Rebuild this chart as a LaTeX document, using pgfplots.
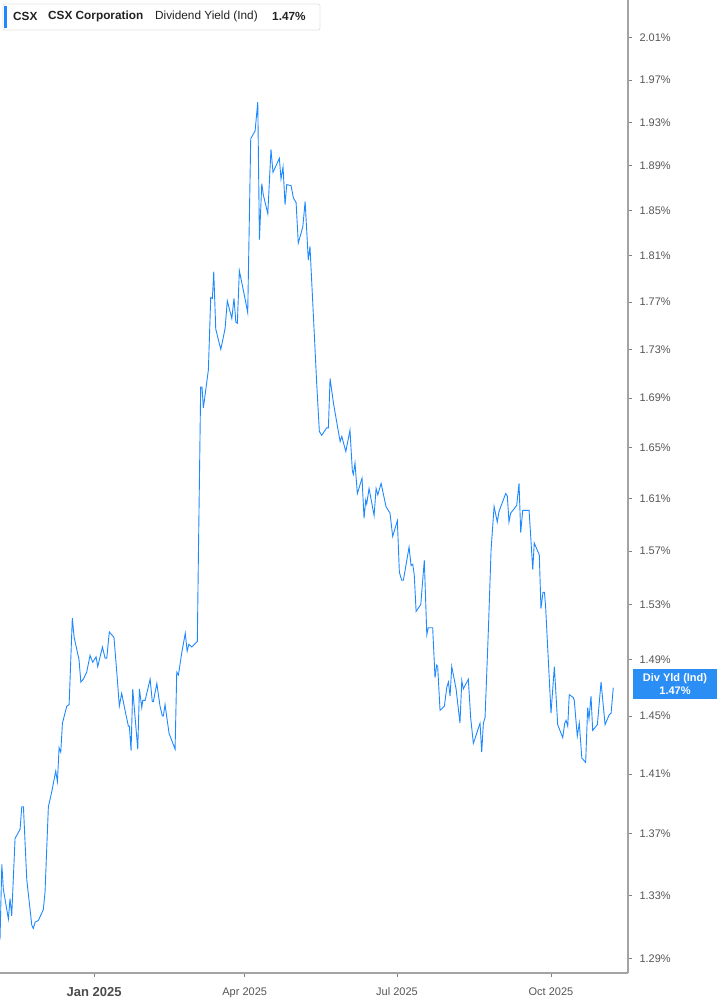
\documentclass[border=0pt]{standalone}
\usepackage{pgfplots}
\pgfplotsset{compat=1.18}
\usepackage{fontspec}
\setmainfont{Liberation Sans}
\definecolor{csxblue}{HTML}{1E88FF}
\definecolor{tagblue}{HTML}{2B8EF5}
\definecolor{ticktext}{HTML}{555555}
\definecolor{axisgray}{HTML}{A3A3A3}
\definecolor{legtext}{HTML}{222222}
\begin{document}
\begin{tikzpicture}[x=1pt,y=1pt]
\begin{axis}[
    at={(0pt,32pt)}, anchor=south west,
    scale only axis, width=628pt, height=973pt,
    ymode=log,
    xmin=-56.2, xmax=319, ymin=1.2812, ymax=2.047,
    axis x line*=bottom, axis y line*=right,
    axis line style={axisgray, line width=1.2pt},
    xtick={0,90,181,273},
    xticklabels={{\fontsize{13}{13}\selectfont\bfseries\color{ticktext!90!black}Jan 2025},Apr 2025,Jul 2025,Oct 2025},
    ytick={1.29,1.33,1.37,1.41,1.45,1.49,1.53,1.57,1.61,1.65,1.69,1.73,1.77,1.81,1.85,1.89,1.93,1.97,2.01},
    yticklabels={1.29\%,1.33\%,1.37\%,1.41\%,1.45\%,1.49\%,1.53\%,1.57\%,1.61\%,1.65\%,1.69\%,1.73\%,1.77\%,1.81\%,1.85\%,1.89\%,1.93\%,1.97\%,2.01\%},
    tick style={color=gray, line width=0.8pt},
    major tick length=4pt,
    tick align=outside,
    ticklabel style={font=\fontsize{11}{13}\selectfont, text=ticktext},
    xticklabel style={yshift=-7pt},
    yticklabel style={xshift=4pt},
]
\addplot[csxblue, line width=0.9pt] coordinates {
(-56.2,1.302) (-55.1,1.350) (-54.2,1.334) (-51.2,1.315) (-50.2,1.328) (-49.2,1.317)
(-47.2,1.367) (-44.2,1.373) (-43.2,1.388) (-42.2,1.388) (-40.2,1.340) (-37.2,1.311)
(-36.3,1.309) (-35.2,1.313) (-33.3,1.314) (-30.3,1.321) (-29.3,1.332) (-27.3,1.388)
(-25.3,1.398) (-22.9,1.412) (-21.9,1.405) (-20.9,1.428) (-19.9,1.425) (-18.9,1.445)
(-16.3,1.457) (-14.9,1.458) (-13.0,1.520) (-11.9,1.506) (-9.0,1.490) (-7.9,1.474)
(-6.4,1.476) (-4.4,1.481) (-2.4,1.493) (-0.8,1.488) (1.2,1.492) (2.2,1.485)
(5.0,1.499) (6.6,1.491) (7.6,1.491) (9.1,1.510) (11.9,1.506) (13.9,1.476)
(15.1,1.457) (16.5,1.466) (18.5,1.454) (20.5,1.443) (21.1,1.443) (22.1,1.426)
(23.1,1.469) (26.1,1.427) (27.1,1.469) (28.5,1.456) (29.1,1.461) (30.5,1.461)
(33.5,1.476) (34.8,1.460) (35.4,1.460) (37.5,1.473) (39.4,1.457) (40.8,1.450)
(41.4,1.450) (42.4,1.458) (44.8,1.438) (48.4,1.427) (49.4,1.481) (50.4,1.479)
(52.4,1.495) (54.5,1.509) (55.6,1.496) (56.6,1.501) (58.4,1.499) (61.7,1.503)
(62.3,1.563) (63.7,1.699) (64.5,1.699) (65.3,1.682) (68.3,1.713) (69.7,1.774)
(70.7,1.773) (71.5,1.796) (72.7,1.747) (75.7,1.730) (77.2,1.740) (78.3,1.748)
(79.6,1.771) (82.3,1.756) (83.6,1.773) (84.7,1.753) (85.6,1.752) (86.8,1.797)
(89.2,1.780) (90.6,1.770) (91.8,1.761) (93.6,1.915) (96.2,1.922) (97.8,1.949)
(98.8,1.824) (100.2,1.874) (101.1,1.864) (103.8,1.847) (105.7,1.905) (106.9,1.884)
(110.7,1.897) (111.7,1.878) (112.9,1.889) (114.1,1.855) (115.1,1.873) (117.7,1.872)
(119.1,1.861) (120.7,1.857) (122.0,1.821) (124.7,1.835) (126.1,1.858) (128.0,1.806)
(129.0,1.818) (132.0,1.731) (133.0,1.702) (134.6,1.663) (136.0,1.660) (139.0,1.666)
(140.0,1.666) (141.0,1.706) (143.0,1.686) (145.3,1.668) (147.0,1.655) (148.0,1.659)
(150.4,1.647) (152.9,1.664) (154.3,1.632) (154.9,1.629) (155.9,1.638) (157.3,1.614)
(160.1,1.626) (161.3,1.595) (162.3,1.609) (162.9,1.606) (164.3,1.618) (167.3,1.597)
(168.5,1.618) (169.5,1.613) (171.5,1.622) (174.4,1.604) (175.8,1.601) (176.8,1.599)
(178.4,1.581) (181.2,1.593) (182.4,1.554) (183.8,1.548) (184.8,1.548) (188.2,1.573)
(189.4,1.559) (190.4,1.560) (191.3,1.552) (192.4,1.525) (195.2,1.530) (197.3,1.563)
(198.8,1.508) (199.7,1.513) (202.3,1.513) (203.7,1.477) (204.7,1.486) (205.3,1.485)
(206.7,1.454) (209.3,1.457) (210.7,1.470) (211.7,1.474) (212.7,1.464) (213.7,1.485)
(216.3,1.469) (218.6,1.445) (219.7,1.475) (220.6,1.469) (223.6,1.476) (225.0,1.449)
(226.6,1.431) (230.6,1.445) (231.6,1.425) (232.6,1.445) (233.6,1.449) (235.6,1.512)
(237.2,1.571) (239.0,1.604) (240.9,1.592) (241.9,1.600) (245.9,1.614) (246.9,1.612)
(247.9,1.592) (248.9,1.599) (251.5,1.603) (252.5,1.605) (253.9,1.622) (254.9,1.584)
(256.1,1.601) (258.5,1.601) (259.9,1.601) (262.1,1.556) (263.0,1.576) (266.0,1.567)
(267.0,1.527) (268.2,1.539) (269.1,1.539) (269.8,1.528) (273.0,1.452) (275.0,1.485)
(277.0,1.444) (280.0,1.435) (281.2,1.445) (282.0,1.447) (283.0,1.443) (283.9,1.465)
(286.3,1.463) (286.9,1.461) (288.7,1.436) (289.9,1.445) (291.4,1.421) (293.7,1.418)
(294.9,1.456) (295.7,1.448) (296.9,1.464) (297.9,1.440) (300.7,1.444) (302.9,1.474)
(305.3,1.444) (307.8,1.451) (308.9,1.452) (310.2,1.470)
};
\end{axis}
% legend box, top left
\draw[gray!22, line width=0.8pt, fill=white, rounded corners=2pt] (3,1001) rectangle (320,975);
\fill[csxblue] (4,999) rectangle (7,977);
\node[anchor=west, inner sep=0, text=legtext, font=\fontsize{11.8}{14}\selectfont\bfseries] at (13,988.5) {CSX};
\node[anchor=west, inner sep=0, text=legtext, font=\fontsize{11.8}{14}\selectfont\bfseries] at (48,988.5) {CSX Corporation};
\node[anchor=west, inner sep=0, text=legtext, font=\fontsize{11.8}{14}\selectfont] at (155,988.5) {Dividend Yield (Ind)};
\node[anchor=west, inner sep=0, text=legtext, font=\fontsize{11.8}{14}\selectfont\bfseries] at (272,988.5) {1.47\%};
% last value tag on the right axis
\fill[tagblue] (633,336) rectangle (717,306);
\node[inner sep=0, text=white, font=\fontsize{11}{12}\selectfont\bfseries] at (675,326) {Div Yld (Ind)};
\node[inner sep=0, text=white, font=\fontsize{11}{12}\selectfont\bfseries] at (675,314) {1.47\%};
\pgfresetboundingbox
\path (0,0) rectangle (717,1005);
\end{tikzpicture}
\end{document}
